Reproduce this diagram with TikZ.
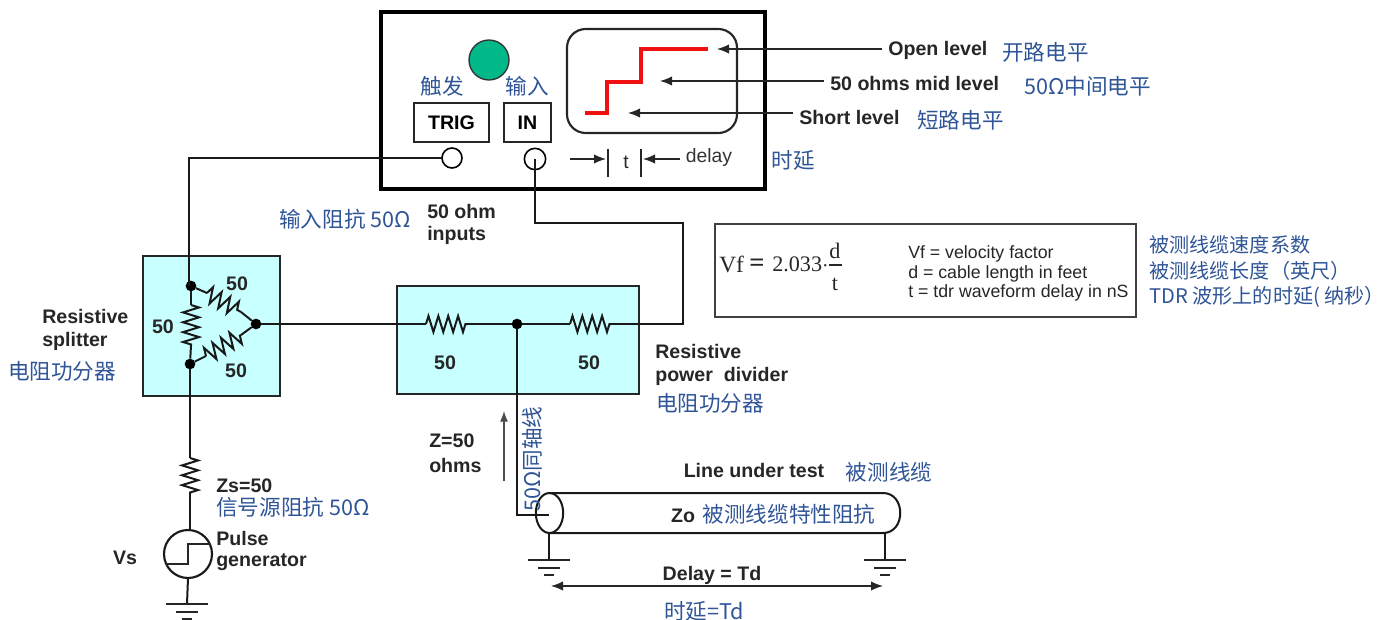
\documentclass[tikz,border=0pt]{standalone}
\usepackage{fontspec}
\usetikzlibrary{arrows.meta,decorations.pathmorphing,shapes.geometric}
\setmainfont{Liberation Sans}
\newfontfamily\cjk{Noto Sans CJK SC}
\newfontfamily\tnr{Liberation Serif}
\definecolor{cnblue}{HTML}{2F5597}
\definecolor{panel}{HTML}{C8FFFF}
\definecolor{ledgreen}{HTML}{00B888}
\definecolor{trace}{HTML}{F01010}
\tikzset{
  x=0.75pt,y=-0.75pt,
  wire/.style={draw=black!90,line width=1.5pt,line join=miter},
  thin wire/.style={draw=black!85,line width=1pt},
  ptr/.style={draw=black!85,line width=0.9pt,-{Latex[length=9pt,width=7pt]}},
  boxnode/.style={draw=black!85,line width=1.6pt,rectangle,inner sep=0pt,outer sep=0pt},
  panelbox/.style={boxnode,fill=panel},
  dotn/.style={circle,fill=black,inner sep=0pt,minimum size=8pt,outer sep=0pt},
  port/.style={circle,draw=black,line width=1.2pt,inner sep=0pt,outer sep=0pt,fill=none},
  lab/.style={font=\fontsize{14.7}{17}\selectfont\bfseries,text=black!85,inner sep=0pt},
  labl/.style={lab,anchor=west,align=left},
  cn/.style={font=\cjk\fontsize{16.2}{18}\selectfont,text=cnblue,inner sep=0pt},
  cnl/.style={cn,anchor=west},
  res/.style={wire,decoration={zigzag,segment length=7.4pt,amplitude=6pt},decorate},
  gnd/.style={line width=1.5pt,draw=black!85},
  notetext/.style={inner sep=0pt,anchor=west,font=\fontsize{13.3}{15}\selectfont,text=black!85},
  serif/.style={inner sep=0pt,font=\tnr\fontsize{16.6}{18}\selectfont,text=black!85},
}
\newcommand{\gndsym}[2]{%
  \draw[gnd] (#1-21,#2) -- (#1+21,#2);
  \draw[gnd] (#1-11,#2+8) -- (#1+11,#2+8);
  \draw[gnd] (#1-5,#2+15) -- (#1+5,#2+15);}
\begin{document}
\begin{tikzpicture}
\useasboundingbox (0,0) rectangle (1391,620);
% panels
\node[panelbox,minimum width=102.75pt,minimum height=105pt] (splitter) at (211.5,326) {};
\node[panelbox,minimum width=181.5pt,minimum height=81pt] (divider) at (518,340) {};
% instrument
\node[boxnode,draw=black,line width=2.6pt,minimum width=288pt,minimum height=132.75pt] (scope) at (573,100.5) {};
\node[circle,draw=black!80,line width=1pt,fill=ledgreen,minimum size=30pt,inner sep=0pt] (led) at (489,60) {};
\node[boxnode,minimum width=56.25pt,minimum height=29.25pt,font=\fontsize{14.7}{17}\selectfont\bfseries] (trig) at (451.5,122.5) {TRIG};
\node[boxnode,minimum width=35.25pt,minimum height=29.25pt,font=\fontsize{14.7}{17}\selectfont\bfseries] (in) at (527.5,122.5) {IN};
\node[port,minimum size=15pt] (trigport) at (452,158) {};
\node[port,minimum size=16pt] (inport) at (535,159) {};
\node[boxnode,rounded corners=14pt,minimum width=127.5pt,minimum height=78pt] (screen) at (652,81) {};
% trace
\coordinate (t0) at (585,113); \coordinate (t1) at (607,113); \coordinate (t2) at (607,82);
\coordinate (t3) at (641,82); \coordinate (t4) at (641,49); \coordinate (t5) at (708,49);
\draw[draw=trace,line width=2.4pt] (t0) -- (t1) -- (t2) -- (t3) -- (t4) -- (t5);
% level labels + arrows
\node[lab,anchor=west] (open) at (888,50) {Open level};
\node[lab,anchor=west] (mid) at (830,83) {50 ohms mid level};
\node[lab,anchor=west] (short) at (799,117) {Short level};
\coordinate (openS) at (882,49); \coordinate (midS) at (824,81); \coordinate (shortS) at (793,113);
\coordinate (openT) at (717,49); \coordinate (midT) at (660,81); \coordinate (shortT) at (628,113);
\draw[ptr] (openS) -- (openT);
\draw[ptr] (midS) -- (midT);
\draw[ptr] (shortS) -- (shortT);
\node[cnl] (c1) at (1002,52) {开路电平};
\node[cnl] (c2) at (1024,86) {50Ω中间电平};
\node[cnl] (c3) at (917,120) {短路电平};
% delay
\coordinate (ta) at (608,149); \coordinate (tb) at (608,177);
\coordinate (tc) at (641,149); \coordinate (td) at (641,177);
\draw[thin wire] (ta) -- (tb); \draw[thin wire] (tc) -- (td);
\coordinate (da) at (570,159); \coordinate (db) at (606,159);
\coordinate (dc) at (680,159); \coordinate (dd) at (643,159);
\draw[ptr] (da) -- (db); \draw[ptr] (dc) -- (dd);
\node[inner sep=0pt,font=\fontsize{14.5}{16}\selectfont,text=black!85] (tlab) at (626,162) {t};
\node[inner sep=0pt,font=\fontsize{14.5}{16}\selectfont,text=black!80] (delaylab) at (709,158) {delay};
\node[cn] (c4) at (793,160) {时延};
\node[cn] (c5) at (442,86) {触发};
\node[cn] (c6) at (527,86) {输入};
% wires from instrument
\coordinate (w1) at (189,158);
\node[dotn] (j1) at (191,286) {};
\node[dotn] (j2) at (190,364) {};
\node[dotn] (j3) at (256,324) {};
\node[dotn] (j4) at (517,324) {};
\draw[wire] (trigport.west) -- (w1) -- (w1 |- j1);
\coordinate (w2) at (535,223); \coordinate (w3) at (683,223); \coordinate (w4) at (683,324);
% triangle of resistors
\coordinate (v1) at (191,305); \coordinate (v2) at (191,345);
\draw[wire] (j1) -- (v1); \draw[wire] (v2) -- (j2);
\draw[res] (v1) -- (v2);
\coordinate (a1) at (207,293); \coordinate (a2) at (241,312);
\draw[wire] (j1) -- (a1); \draw[wire] (a2) -- (j3);
\draw[res] (a1) -- (a2);
\coordinate (b1) at (206,356); \coordinate (b2) at (241,335);
\draw[wire] (j2) -- (b1); \draw[wire] (b2) -- (j3);
\draw[res] (b1) -- (b2);
% divider
\coordinate (r1) at (426,324); \coordinate (r2) at (467,324);
\coordinate (r3) at (570,324); \coordinate (r4) at (611,324);
\draw[wire] (j3) -- (r1); \draw[res] (r1) -- (r2); \draw[wire] (r2) -- (j4) -- (r3);
\draw[res] (r3) -- (r4);
\draw[wire] (r4) -- (w4) -- (w3) -- (w2) -- (inport.center);
% source
\coordinate (s1) at (190,458); \coordinate (s2) at (190,494);
\node[circle,draw=black!90,line width=1.6pt,minimum size=36pt,inner sep=0pt,outer sep=0pt] (gen) at (188,554) {};
\draw[wire] (j2) -- (s1); \draw[res] (s1) -- (s2); \draw[wire] (s2) -- (s2 |- gen.north);
\coordinate (p1) at (166,564); \coordinate (p2) at (188,564); \coordinate (p3) at (188,544); \coordinate (p4) at (210,544);
\draw[thin wire,line width=1.3pt] (p1) -- (p2) -- (p3) -- (p4);
\coordinate (g0) at (187,604);
\draw[wire] (gen.south) -- (g0);
\gndsym{187}{604}
% cable
\coordinate (k1) at (549,493); \coordinate (k2) at (883,493); \coordinate (k3) at (883,533); \coordinate (k4) at (549,533);
\draw[wire] (k1) -- (k2) .. controls (906,493) and (906,533) .. (k3) -- (k4);
\node[ellipse,draw=black!90,line width=1.5pt,minimum width=20.5pt,minimum height=30pt,inner sep=0pt,outer sep=0pt] (cable) at (549.5,513) {};
\coordinate (k5) at (517,515); \coordinate (k6) at (549,515);
\draw[wire] (j4) -- (k5) -- (k6);
\coordinate (g1) at (549,560); \coordinate (g2) at (885,560);
\draw[wire] (k4) -- (g1); \draw[wire] (k3 -| g2) -- (g2);
\gndsym{549}{560}
\gndsym{885}{560}
\coordinate (e1) at (551,586); \coordinate (e2) at (883,586);
\draw[draw=black!85,line width=0.9pt,{Latex[length=9pt,width=7pt]}-{Latex[length=9pt,width=7pt]}] (e1) -- (e2);
\coordinate (z1) at (504,481); \coordinate (z2) at (504,411);
\draw[draw=black!70,line width=0.9pt,-{Latex[length=8pt,width=6pt]}] (z1) -- (z2);
% formula box
\node[boxnode,line width=1.1pt,draw=black!75,minimum width=315.75pt,minimum height=69.75pt] (fbox) at (925.5,270.5) {};
\node[serif,anchor=west,font=\tnr\fontsize{17.5}{18}\selectfont] (fa) at (719,264) {Vf};
\node[serif,anchor=west,font=\tnr\bfseries\fontsize{20}{20}\selectfont] (fb) at (749,265) {=};
\node[serif,anchor=west] (fc) at (772,264) {2.033$\cdot$};
\node[serif] (fd) at (835,251) {d};
\node[serif] (ft) at (835,284) {t};
\coordinate (fl) at (829,265); \coordinate (fr) at (842,265);
\draw[draw=black!85,line width=0.9pt] (fl) -- (fr);
\node[notetext] (n1) at (908,254) {Vf = velocity factor};
\node[notetext] (n2) at (908,274) {d = cable length in feet};
\node[notetext] (n3) at (908,293) {t = tdr waveform delay in nS};
\node[cnl,font=\cjk\fontsize{15.1}{18}\selectfont] (c7) at (1149,245) {被测线缆速度系数};
\node[cnl,font=\cjk\fontsize{15.1}{18}\selectfont] (c8) at (1149,271) {被测线缆长度（英尺）};
\node[cnl,font=\cjk\fontsize{15.1}{18}\selectfont] (c9) at (1149,297) {TDR 波形上的时延( 纳秒）};
% labels
\node[cn] (c10) at (345,219) {输入阻抗 50Ω};
\node[labl] (l1) at (427,211) {50 ohm};
\node[labl] (l2) at (427,235) {inputs};
\node[labl] (l3) at (42,316) {Resistive};
\node[labl] (l4) at (42,341) {splitter};
\node[cn] (c11) at (62,371) {电阻功分器};
\node[lab] (r50a) at (237,284) {50};
\node[lab] (r50b) at (163,327) {50};
\node[lab] (r50c) at (236,371) {50};
\node[lab] (r50d) at (445,363) {50};
\node[lab] (r50e) at (589,363) {50};
\node[labl] (l5) at (655,351) {Resistive};
\node[labl] (l6) at (655,376) {power\ \ divider};
\node[cn] (c12) at (710,403) {电阻功分器};
\node[labl] (l7) at (429,441) {Z=50};
\node[labl] (l8) at (429,465) {ohms};
\node[cn,rotate=90] (c13) at (532,459) {50Ω同轴线};
\node[labl] (l9) at (216,486) {Zs=50};
\node[cnl] (c14) at (216,507) {信号源阻抗 50Ω};
\node[labl] (l10) at (216,538) {Pulse};
\node[labl] (l11) at (216,562) {generator};
\node[lab] (l12) at (125,558) {Vs};
\node[lab] (l13) at (754,470) {Line under test};
\node[cn] (c15) at (889,472) {被测线缆};
\node[lab] (l14) at (683,516) {Zo};
\node[cn] (c16) at (789,514) {被测线缆特性阻抗};
\node[lab] (l15) at (712,575) {Delay = Td};
\node[cn] (c17) at (704,611) {时延=Td};
\end{tikzpicture}
\end{document}
